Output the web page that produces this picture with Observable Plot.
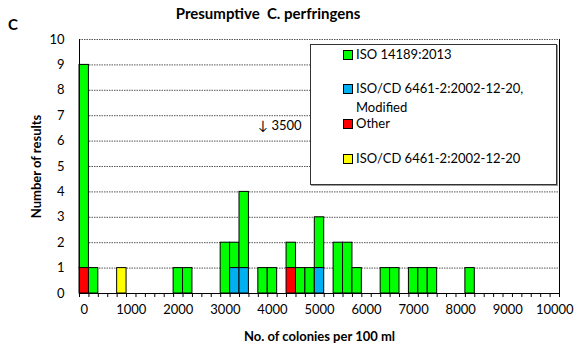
<!DOCTYPE html>
<html><head><meta charset="utf-8">
<script src="https://cdn.jsdelivr.net/npm/d3@7"></script>
<script src="https://cdn.jsdelivr.net/npm/@observablehq/plot@0.6"></script>
<style>
body{margin:0;background:#fff;font-family:Lato,"Open Sans",sans-serif;color:#000;}
#wrap{position:relative;width:584px;height:349px;overflow:hidden;}
#wrap svg{position:absolute;left:0;top:0;}
g[aria-label="x-axis label"] text, g[aria-label="y-axis label"] text{font-weight:bold;font-size:13px;}
#title{position:absolute;left:0;width:536px;top:4px;text-align:center;font-weight:bold;font-size:15px;line-height:18px;}
#letter{position:absolute;left:8px;top:15px;font-weight:bold;font-size:15px;line-height:18px;}
#legend{position:absolute;left:310px;top:44px;width:245px;height:139px;border:1px solid #333;box-shadow:1px 1px 0 #999;background:#fff;}
.li{position:absolute;left:32px;font-size:13px;line-height:17px;}
.sw{position:absolute;left:0;top:4px;width:8px;height:8px;border:1px solid #000;}
.lt{position:absolute;left:13px;top:0;width:190px;}
.li.two .lt{line-height:19px;top:-1px;}
</style></head><body><div id="wrap"></div>
<script>
// Methods (legend order) and colours
const methods = ["ISO 14189:2013", "ISO/CD 6461-2:2002-12-20, Modified", "Other", "ISO/CD 6461-2:2002-12-20"];
const colors = ["#00ff00", "#00b0f0", "#ff0000", "#ffff00"];
// Stack order (bottom first)
const stackOrder = ["Other", "ISO/CD 6461-2:2002-12-20, Modified", "ISO/CD 6461-2:2002-12-20", "ISO 14189:2013"];

// Bin centres (colonies per 100 ml) and number of results per method
const isoX = [0, 200, 2000, 2200, 3000, 3200, 3400, 3800, 4000, 4400, 4600, 4800, 5000, 5400, 5600, 5800, 6400, 6600, 7000, 7200, 7400, 8200];
const isoN = [8, 1, 1, 1, 2, 1, 3, 1, 1, 1, 1, 1, 2, 2, 2, 1, 1, 1, 1, 1, 1, 1];
const modX = [3200, 3400, 5000];
const modN = [1, 1, 1];
const otherX = [0, 4400];
const otherN = [1, 1];
const cdX = [800];
const cdN = [1];

// Axis ticks
const yTicks = [0, 1, 2, 3, 4, 5, 6, 7, 8, 9, 10];
const xLabelTicks = [0, 1000, 2000, 3000, 4000, 5000, 6000, 7000, 8000, 9000, 10000];
const binWidth = 200;

// Annotation
const noteX = [3700];
const noteY = [6.6];
const noteText = ["↓ 3500"];

const rows = [];
function add(xs, ns, m) { xs.forEach((x, i) => rows.push({x, n: ns[i], method: m})); }
add(isoX, isoN, methods[0]);
add(modX, modN, methods[1]);
add(otherX, otherN, methods[2]);
add(cdX, cdN, methods[3]);
const notes = noteX.map((x, i) => ({x, y: noteY[i], t: noteText[i]}));

const xMin = xLabelTicks[0] - binWidth / 2, xMax = xLabelTicks[xLabelTicks.length - 1] + binWidth / 2;
const minorTicks = d3.range(xMin, xMax + 1, binWidth);

const plot = Plot.plot({
  width: 584, height: 349,
  marginLeft: 79, marginRight: 25, marginTop: 39, marginBottom: 56,
  style: {fontFamily: "Lato, 'Open Sans', sans-serif", fontSize: "13px", color: "#000", background: "transparent", overflow: "visible"},
  x: {domain: [xMin, xMax]},
  y: {domain: [0, 10]},
  color: {domain: methods, range: colors},
  marks: [
    Plot.ruleY(yTicks.slice(1), {stroke: "#555", strokeDasharray: "1.5,1"}),
    Plot.rectY(rows, Plot.stackY({x1: d => d.x - binWidth / 2, x2: d => d.x + binWidth / 2, y: "n", fill: "method", order: stackOrder, stroke: "#000", strokeWidth: 1})),
    Plot.ruleX([xMin, xMax], {stroke: "#000"}),
    Plot.ruleY([0], {stroke: "#000"}),
    Plot.axisY({ticks: yTicks, tickSize: 0, tickPadding: 15, tickFormat: d => String(d), label: "Number of results", labelAnchor: "center", labelOffset: 48, labelArrow: "none"}),
    Plot.axisX({ticks: minorTicks, tickSize: 4, tickFormat: () => "", label: null}),
    Plot.axisX({ticks: xLabelTicks, tickSize: 0, tickPadding: 11, tickFormat: d => String(d), label: "No. of colonies per 100 ml", labelAnchor: "center", labelOffset: 47, labelArrow: "none"}),
    Plot.text(notes, {x: "x", y: "y", text: "t", textAnchor: "start", fontSize: 13})
  ]
});

const wrap = document.getElementById("wrap");
wrap.appendChild(plot);

const title = document.createElement("div");
title.id = "title";
title.textContent = "Presumptive  C. perfringens";
title.style.whiteSpace = "pre";
wrap.appendChild(title);

const letter = document.createElement("div");
letter.id = "letter";
letter.textContent = "C";
wrap.appendChild(letter);

const legend = document.createElement("div");
legend.id = "legend";
const rowTops = [1, 35, 70, 105];
methods.forEach((m, i) => {
  const li = document.createElement("div");
  li.className = "li" + (i === 1 ? " two" : "");
  li.style.top = rowTops[i] + "px";
  const sw = document.createElement("div");
  sw.className = "sw";
  sw.style.background = colors[i];
  const lt = document.createElement("div");
  lt.className = "lt";
  lt.textContent = m;
  li.appendChild(sw); li.appendChild(lt);
  legend.appendChild(li);
});
wrap.appendChild(legend);
</script></body></html>
